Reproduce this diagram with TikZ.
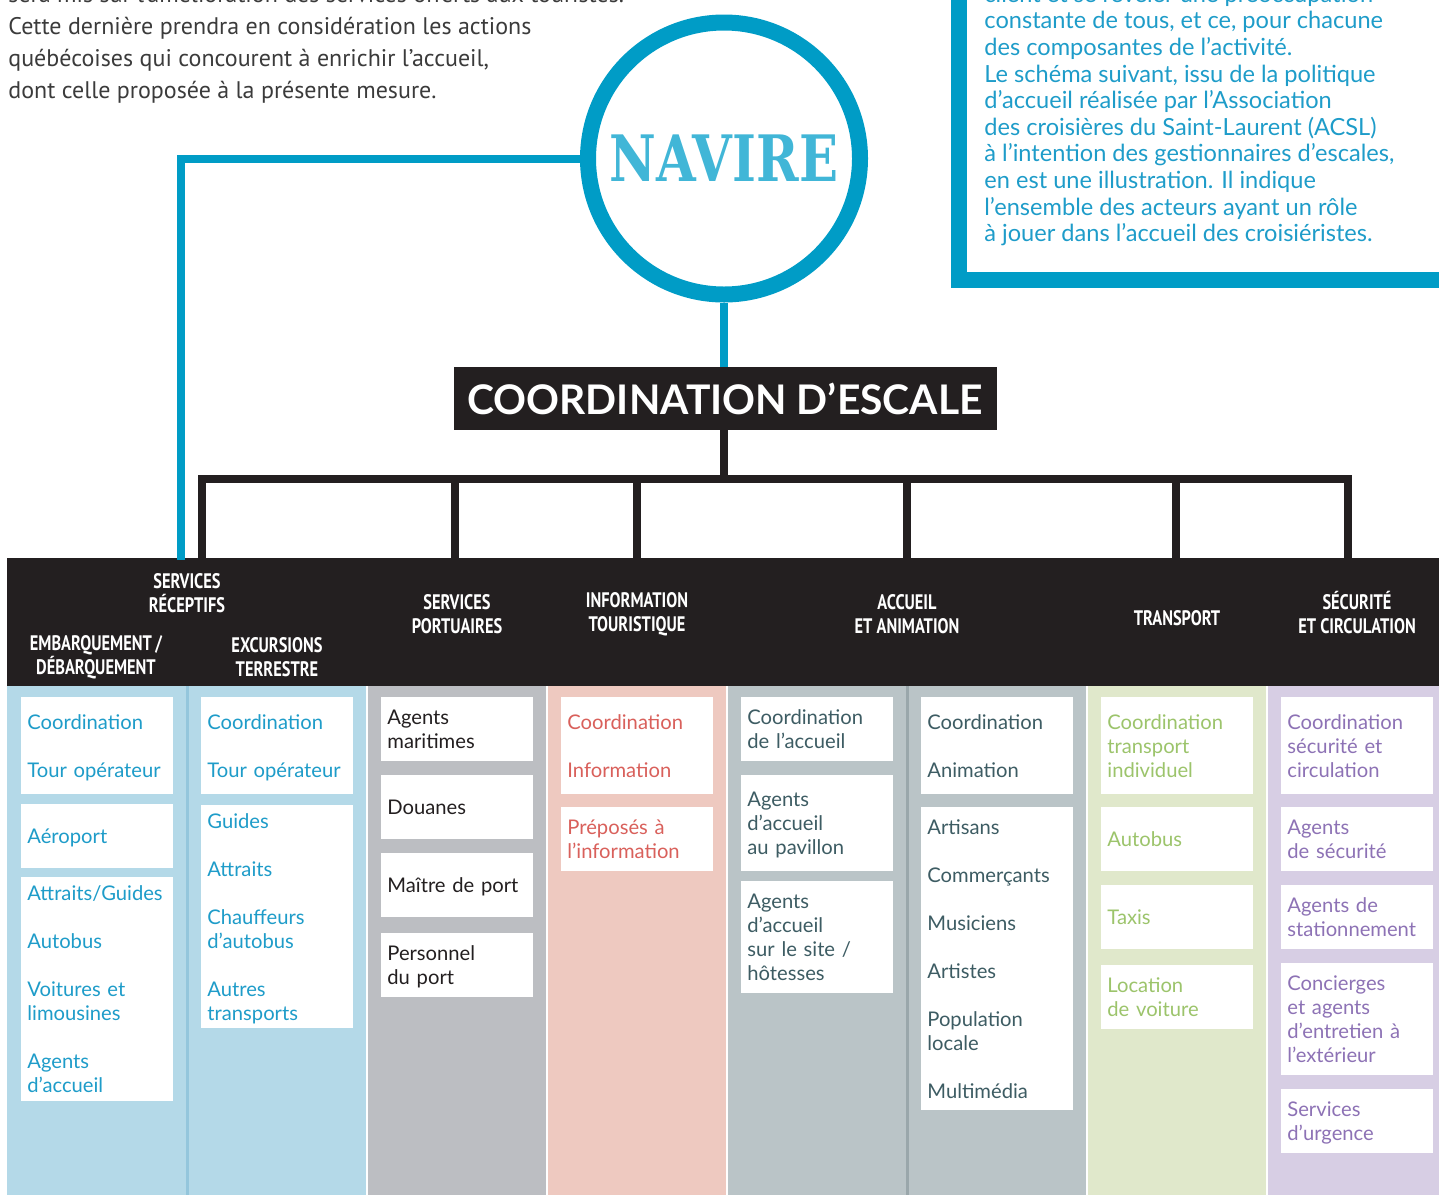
\documentclass[tikz,border=0pt]{standalone}
\usepackage{fontspec}
\setmainfont{Lato}
\newfontfamily\headfont[FakeStretch=0.78]{PT Sans}
\newfontfamily\parafont{PT Sans}
\newfontfamily\slabfont[FakeStretch=0.8]{DejaVu Serif}
\definecolor{navblue}{HTML}{009CC6}
\definecolor{navlight}{HTML}{41B6D7}
\definecolor{inkblack}{HTML}{231F20}
\definecolor{textblue}{HTML}{1E9CC9}
\definecolor{paragray}{HTML}{3B3B3B}
\definecolor{bgblue}{HTML}{B4D9E8}
\definecolor{lineblue}{HTML}{94C6DC}
\definecolor{bggray}{HTML}{BCBEC2}
\definecolor{bgpink}{HTML}{EEC9C0}
\definecolor{bgslate}{HTML}{BAC4C7}
\definecolor{lineslate}{HTML}{9AA7AB}
\definecolor{bggreen}{HTML}{E0E8CB}
\definecolor{bgmauve}{HTML}{D7CEE4}
\definecolor{txtred}{HTML}{D9605B}
\definecolor{txtslate}{HTML}{3D5C63}
\definecolor{txtgreen}{HTML}{9CC46B}
\definecolor{txtmauve}{HTML}{8D72B5}

\begin{document}
\begin{tikzpicture}[x=0.5pt, y=-0.5pt,
  head/.style={text=white, align=center, inner sep=0pt, font=\headfont\bfseries\fontsize{10.5}{12}\selectfont},
  item/.style={fill=white, anchor=north west, text width=70pt, inner xsep=3pt, inner ysep=0pt, align=left,
    font=\fontsize{10.1}{12}\selectfont,
    execute at begin node=\rule{0pt}{9.65pt}, execute at end node=\rule[-2.35pt]{0pt}{2.35pt}},
  tree/.style={draw=inkblack, line width=4pt},
  ship/.style={draw=navblue, line width=4pt}]
\useasboundingbox (0, 0) rectangle (1439, 1195);
\clip (0, 0) rectangle (1439, 1195);

\path
(8, 44) node[anchor=west, align=left, inner sep=0pt, text=paragray, font=\parafont\fontsize{12}{16}\selectfont] (intro)
  {sera mis sur l’amélioration des services offerts aux touristes.\\
   Cette dernière prendra en considération les actions\\
   québécoises qui concourent à enrichir l’accueil,\\
   dont celle proposée à la présente mesure.};

\draw[navblue, line width=8pt] (959, -20) rectangle (1450, 280);
\path
(984, 115.5) node[anchor=west, align=left, inner sep=0pt, text=textblue, font=\fontsize{11.8}{13.3}\selectfont] (note)
  {client et se révéler une préoccupation\\
   constante de tous, et ce, pour chacune\\
   des composantes de l’activité.\\
   Le schéma suivant, issu de la politique\\
   d’accueil réalisée par l’Association\\
   des croisières du Saint-Laurent (ACSL)\\
   à l’intention des gestionnaires d’escales,\\
   en est une illustration. Il indique\\
   l’ensemble des acteurs ayant un rôle\\
   à jouer dans l’accueil des croisiéristes.};

\path
(724, 158.5) node[circle, draw=navblue, line width=8pt, minimum size=136pt, inner sep=0pt, text=navlight, font=\slabfont\bfseries\fontsize{32}{36}\selectfont] (navire) {NAVIRE}
(725, 398.5) node[fill=inkblack, text=white, minimum width=271.5pt, minimum height=31.5pt, font=\bfseries\fontsize{20.4}{24}\selectfont] (coord) {COORDINATION D’ESCALE};

\fill[inkblack] (7, 558) rectangle (1439, 686);
\fill[bgblue] (7, 686) rectangle (186, 1195);
\fill[bgblue] (188, 686) rectangle (366, 1195);
\fill[bggray] (368, 686) rectangle (546, 1195);
\fill[bgpink] (548, 686) rectangle (726, 1195);
\fill[bgslate] (728, 686) rectangle (906, 1195);
\fill[bgslate] (908, 686) rectangle (1086, 1195);
\fill[bggreen] (1088, 686) rectangle (1266, 1195);
\fill[bgmauve] (1268, 686) rectangle (1439, 1195);
\draw[lineblue, line width=1.5pt] (187, 686) -- (187, 1195);
\draw[lineslate, line width=1.5pt] (907, 686) -- (907, 1195);

\coordinate (bar) at (724, 478.5);
\coordinate (shipdrop) at (181, 560);
\coordinate (d1) at (201.5, 560);
\coordinate (d2) at (455, 560);
\coordinate (d3) at (636.5, 560);
\coordinate (d4) at (907, 560);
\coordinate (d5) at (1176, 560);
\coordinate (d6) at (1348, 560);

\draw[ship] (navire.west) -| (shipdrop);
\draw[ship] (navire.south) -- (navire.south |- coord.north);
\draw[tree] (navire.south |- coord.south) -- (bar);
\draw[tree] (d1) |- (bar) -| (d6);
\foreach \d in {d2, d3, d4, d5}
  \draw[tree] (\d) -- (\d |- bar);

\path
(187, 593) node[head] (recept) {SERVICES\\RÉCEPTIFS}
(96, 657.5) node[head] (embarq) {EMBARQUEMENT\,/\\DÉBARQUEMENT}
(277, 657.5) node[head] (excurs) {EXCURSIONS\\TERRESTRE}
(457, 614) node[head] (portu) {SERVICES\\PORTUAIRES}
(637, 614) node[head] (info) {INFORMATION\\TOURISTIQUE}
(907, 614) node[head] (accueil) {ACCUEIL\\ET ANIMATION}
(1177, 618) node[head] (transp) {TRANSPORT}
(1357, 612) node[head] (secur) {SÉCURITÉ\\ET CIRCULATION};

\path
(21, 697) node[item, text=textblue, minimum height=48.5pt] (emba) {Coordination\\[12pt]Tour opérateur}
(21, 804) node[item, text=textblue, minimum height=32pt] (embb) {Aéroport}
(21, 877) node[item, text=textblue, minimum height=112pt] (embc) {Attraits/Guides\\[12pt]Autobus\\[12pt]Voitures et\\limousines\\[12pt]Agents\\d’accueil}
(201, 697) node[item, text=textblue, minimum height=48.5pt] (exca) {Coordination\\[12pt]Tour opérateur}
(201, 805) node[item, text=textblue, minimum height=111.5pt] (excb) {Guides\\[12pt]Attraits\\[12pt]Chauffeurs\\d’autobus\\[12pt]Autres\\transports}
(381, 697) node[item, text=inkblack, minimum height=32pt] (porta) {Agents\\maritimes}
(381, 775) node[item, text=inkblack, minimum height=32pt] (portb) {Douanes}
(381, 853) node[item, text=inkblack, minimum height=32pt] (portc) {Maître de port}
(381, 933) node[item, text=inkblack, minimum height=32pt] (portd) {Personnel\\du port}
(561, 697) node[item, text=txtred, minimum height=48.5pt] (infoa) {Coordination\\[12pt]Information}
(561, 807) node[item, text=txtred, minimum height=32pt] (infob) {Préposés à\\l’information}
(741, 697) node[item, text=txtslate, minimum height=32pt] (acca) {Coordination\\de l’accueil}
(741, 775) node[item, text=txtslate, minimum height=48pt] (accb) {Agents\\d’accueil\\au pavillon}
(741, 881) node[item, text=txtslate, minimum height=56pt] (accc) {Agents\\d’accueil\\sur le site /\\hôtesses}
(921, 697) node[item, text=txtslate, minimum height=48.5pt] (anima) {Coordination\\[12pt]Animation}
(921, 807) node[item, text=txtslate, minimum height=151.5pt] (animb) {Artisans\\[12pt]Commerçants\\[12pt]Musiciens\\[12pt]Artistes\\[12pt]Population\\locale\\[12pt]Multimédia}
(1101, 697) node[item, text=txtgreen, minimum height=48.5pt] (trana) {Coordination\\transport\\individuel}
(1101, 807) node[item, text=txtgreen, minimum height=32pt] (tranb) {Autobus}
(1101, 885) node[item, text=txtgreen, minimum height=32pt] (tranc) {Taxis}
(1101, 965) node[item, text=txtgreen, minimum height=32pt] (trand) {Location\\de voiture}
(1281, 697) node[item, text=txtmauve, minimum height=48.5pt] (seca) {Coordination\\sécurité et\\circulation}
(1281, 807) node[item, text=txtmauve, minimum height=32pt] (secb) {Agents\\de sécurité}
(1281, 885) node[item, text=txtmauve, minimum height=32pt] (secc) {Agents de\\stationnement}
(1281, 963) node[item, text=txtmauve, minimum height=56pt] (secd) {Concierges\\et agents\\d’entretien à\\l’extérieur}
(1281, 1089) node[item, text=txtmauve, minimum height=32pt] (sece) {Services\\d’urgence};

\end{tikzpicture}
\end{document}
